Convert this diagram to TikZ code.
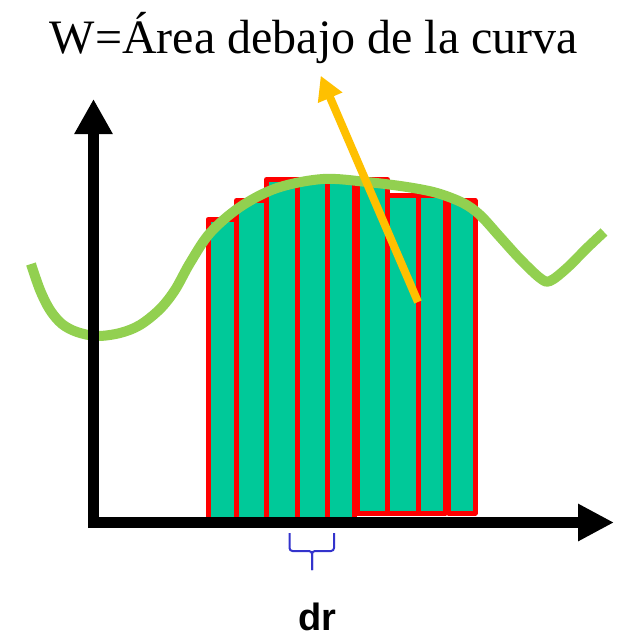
\documentclass[tikz,border=0pt]{standalone}
\usepackage{fontspec}
\setmainfont{Liberation Serif}
\newfontfamily\drfont{Liberation Sans}
\usetikzlibrary{arrows.meta}
\definecolor{barfill}{RGB}{0,201,153}
\definecolor{barred}{RGB}{255,0,0}
\definecolor{curvegreen}{RGB}{146,208,80}
\definecolor{arrowyellow}{RGB}{255,192,0}
\definecolor{braceblue}{RGB}{51,51,204}
\begin{document}
\begin{tikzpicture}[x=1pt,y=-1pt,
  barbox/.style={draw=barred, fill=barfill, line width=5pt, line join=round},
  axisline/.style={line width=11pt, black},
  curveline/.style={curvegreen, line width=10pt},
  pointer/.style={arrowyellow, line width=8pt, -{Triangle[length=24pt,width=25pt]}},
  bracestyle/.style={braceblue, line width=2pt, rounded corners=3pt}]
\useasboundingbox (0,0) rectangle (617,637);
% bars
\foreach \l/\r/\t/\b in {208/236.5/219.5/520, 236.5/266.5/200.5/520, 266.5/297/179.5/520, 297/327/179.5/520, 327/354.5/179.5/520,
  357.5/387.5/179.5/513, 387.5/418.5/195/513, 418.5/445.5/195/513, 448.5/475/200.5/513}
  \draw[barbox] (\l,\t) rectangle (\r,\b);
% curve
\draw[curveline] plot[smooth, tension=0.55] coordinates {(31,264) (40,290) (50,310) (62,324) (77,332) (97,336) (120,333) (140,325) (160,309) (175,290) (190,263) (210,233) (240,207) (277,188) (323,179) (367,182) (407,187) (437,193) (463,203) (480,215) (500,237) (520,259) (540,278) (550,281) (567,268) (587,248) (604,232)};
% axes
\coordinate (ybase) at (93.5,528);
\coordinate (ytip) at (93.5,99);
\coordinate (xbase) at (88,522.5);
\coordinate (xtip) at (614,522.5);
\draw[axisline, -{Triangle[length=35pt,width=36pt]}] (ybase) -- (ytip);
\draw[axisline, -{Triangle[length=36pt,width=35pt]}] (xbase) -- (xtip);
% yellow arrow
\coordinate (pstart) at (418,302);
\node[font=\fontsize{48}{56}\selectfont, anchor=base, inner sep=0pt] (title) at (314,53) {W=Área debajo de la curva};
\coordinate (ptip) at (320.7,75.7);
\draw[pointer] (pstart) -- (ptip);
% brace
\coordinate (bl) at (289.5,533);
\coordinate (br) at (334,533);
\coordinate (bm) at (312,551);
\coordinate (bt) at (312,570);
\draw[bracestyle] (bl) |- (bm) -- (bt);
\draw[bracestyle] (br) |- (bm) -- (bt);
\node[font=\drfont\bfseries\fontsize{38}{42}\selectfont, anchor=base, inner sep=0pt] (dr) at (317,630) {dr};
\end{tikzpicture}
\end{document}
